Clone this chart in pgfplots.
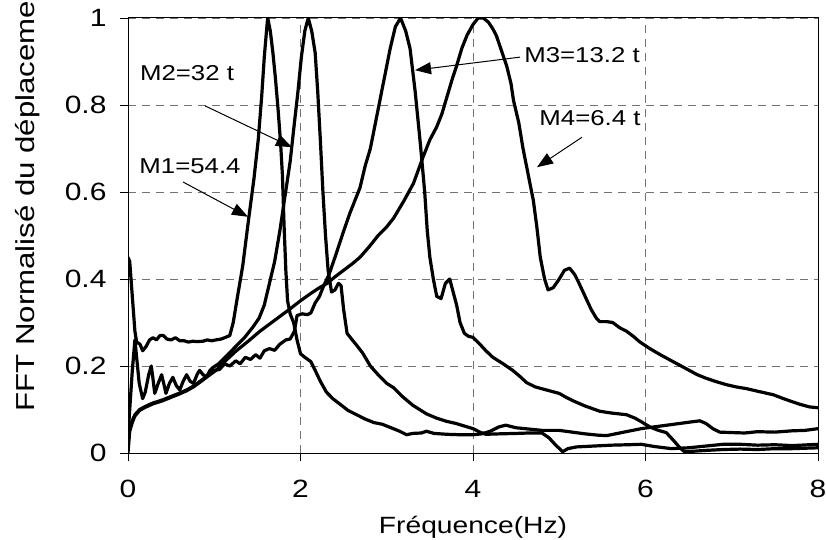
\documentclass[border=0pt]{standalone}
\usepackage{fontspec}
\setmainfont{Liberation Sans}[FakeStretch=1.2]
\usepackage{pgfplots}
\pgfplotsset{compat=1.18}
\usetikzlibrary{arrows.meta}

\pgfplotsset{curve/.style={black, line width=3.2pt, line join=round, no marks}}

\begin{document}
\begin{tikzpicture}
\useasboundingbox (0,0) rectangle (826pt,539pt);
\begin{axis}[
  at={(128pt,86pt)}, anchor=south west,
  scale only axis, width=690pt, height=435pt,
  xmin=0, xmax=8, ymin=0, ymax=1,
  xtick={0,2,4,6,8},
  ytick={0,0.2,0.4,0.6,0.8,1},
  tick pos=left, tick align=outside,
  major tick length=8pt,
  tick style={black, line width=0.8pt},
  axis line style={black, line width=1pt},
  grid=major,
  major grid style={black!55, line width=0.8pt, dash pattern=on 8pt off 6pt},
  /pgf/number format/assume math mode=true,
  tick label style={font=\fontsize{25}{30}\selectfont},
  xticklabel style={yshift=-16pt},
  yticklabel style={xshift=-10pt},
  xlabel={Fréquence(Hz)},
  xlabel style={at={(axis description cs:0.5,0)}, anchor=base, yshift=-80pt,
    font=\fontsize{23.5}{28}\selectfont},
  ylabel={FFT Normalisé du déplaceme},
  ylabel style={at={(axis description cs:-0.135,0.087)}, anchor=base west,
    font=\fontsize{26}{30}\selectfont},
]

% M1 = 54.4 t
\addplot[curve] coordinates {
(0,0.45)(0.02,0.44)(0.05,0.36)(0.08,0.28)(0.1,0.255)(0.14,0.25)(0.17,0.235)(0.21,0.245)
(0.25,0.26)(0.29,0.265)(0.33,0.26)(0.37,0.27)(0.41,0.27)(0.45,0.262)(0.5,0.26)(0.55,0.265)
(0.6,0.258)(0.65,0.258)(0.7,0.255)(0.75,0.257)(0.8,0.256)(0.87,0.257)(0.92,0.26)(0.97,0.258)
(1.02,0.26)(1.08,0.262)(1.12,0.265)(1.18,0.27)(1.22,0.3)(1.27,0.36)(1.33,0.43)(1.40,0.54)
(1.46,0.63)(1.51,0.72)(1.55,0.82)(1.58,0.91)(1.61,0.98)(1.62,1.0)(1.65,0.97)(1.68,0.92)
(1.71,0.86)(1.74,0.79)(1.77,0.71)(1.79,0.64)(1.81,0.52)(1.83,0.42)(1.85,0.35)(1.88,0.32)
(1.92,0.30)(1.96,0.26)(2.0,0.228)(2.05,0.22)(2.12,0.21)(2.17,0.19)(2.23,0.165)(2.3,0.14)
(2.38,0.124)(2.46,0.112)(2.55,0.098)(2.65,0.088)(2.75,0.078)(2.85,0.07)(2.95,0.066)(3.05,0.058)
(3.15,0.05)(3.23,0.042)(3.3,0.045)(3.4,0.046)(3.46,0.05)(3.55,0.045)(3.7,0.043)(3.85,0.042)
(4.0,0.042)(4.1,0.044)(4.2,0.05)(4.3,0.06)(4.38,0.064)(4.5,0.058)(4.65,0.055)(4.8,0.052)
(5.0,0.052)(5.15,0.048)(5.3,0.044)(5.45,0.041)(5.55,0.040)(5.7,0.046)(5.85,0.052)(5.95,0.056)
(6.1,0.06)(6.25,0.064)(6.4,0.068)(6.55,0.072)(6.63,0.074)(6.7,0.068)(6.78,0.056)(6.86,0.048)
(7.0,0.047)(7.15,0.046)(7.3,0.049)(7.5,0.048)(7.7,0.051)(7.85,0.052)(8.0,0.056)
};

% M2 = 32 t
\addplot[curve] coordinates {
(0,0.04)(0.02,0.1)(0.05,0.19)(0.08,0.26)(0.1,0.22)(0.13,0.16)(0.17,0.125)(0.2,0.14)
(0.24,0.18)(0.27,0.2)(0.29,0.17)(0.31,0.137)(0.35,0.16)(0.39,0.18)(0.42,0.155)(0.44,0.137)
(0.48,0.16)(0.52,0.174)(0.56,0.155)(0.6,0.145)(0.64,0.165)(0.68,0.18)(0.72,0.165)(0.76,0.16)
(0.8,0.18)(0.83,0.19)(0.87,0.18)(0.91,0.175)(0.95,0.19)(0.98,0.196)(1.05,0.205)(1.15,0.225)
(1.25,0.245)(1.35,0.265)(1.45,0.29)(1.52,0.31)(1.58,0.34)(1.64,0.39)(1.70,0.44)(1.76,0.51)
(1.82,0.59)(1.88,0.67)(1.93,0.76)(1.97,0.83)(2.01,0.91)(2.05,0.97)(2.09,1.0)(2.13,0.97)
(2.17,0.92)(2.2,0.83)(2.23,0.72)(2.26,0.6)(2.29,0.5)(2.32,0.42)(2.36,0.37)(2.4,0.375)
(2.44,0.39)(2.47,0.385)(2.5,0.33)(2.54,0.275)(2.6,0.26)(2.65,0.248)(2.72,0.23)(2.81,0.20)
(2.9,0.18)(3.0,0.16)(3.08,0.15)(3.18,0.13)(3.3,0.11)(3.46,0.09)(3.58,0.08)(3.69,0.073)
(3.8,0.068)(3.9,0.062)(4.0,0.056)(4.08,0.048)(4.15,0.043)(4.3,0.044)(4.5,0.045)(4.65,0.046)
(4.8,0.046)(4.88,0.035)(4.96,0.018)(5.04,0.003)(5.1,0.01)(5.2,0.014)(5.4,0.016)(5.6,0.018)
(5.8,0.019)(5.95,0.02)(6.1,0.015)(6.3,0.01)(6.5,0.012)(6.7,0.016)(6.9,0.02)(7.1,0.02)
(7.3,0.018)(7.5,0.019)(7.7,0.017)(8.0,0.02)
};

% M3 = 13.2 t
\addplot[curve] coordinates {
(0,0.03)(0.02,0.06)(0.05,0.075)(0.08,0.088)(0.135,0.1)(0.2,0.107)(0.29,0.115)(0.4,0.122)
(0.5,0.13)(0.6,0.138)(0.68,0.145)(0.76,0.154)(0.85,0.167)(0.93,0.179)(1.0,0.19)(1.06,0.192)
(1.12,0.205)(1.18,0.2)(1.25,0.212)(1.3,0.205)(1.36,0.22)(1.42,0.215)(1.48,0.226)(1.53,0.218)
(1.58,0.235)(1.64,0.24)(1.7,0.236)(1.76,0.25)(1.83,0.26)(1.88,0.262)(1.93,0.28)(1.96,0.316)
(2.02,0.32)(2.08,0.318)(2.12,0.322)(2.17,0.345)(2.22,0.36)(2.27,0.385)(2.33,0.41)(2.4,0.45)
(2.5,0.51)(2.57,0.55)(2.63,0.58)(2.69,0.61)(2.75,0.66)(2.81,0.70)(2.87,0.76)(2.92,0.81)
(2.98,0.87)(3.04,0.93)(3.1,0.98)(3.16,1.0)(3.22,0.97)(3.27,0.93)(3.33,0.83)(3.39,0.71)
(3.44,0.6)(3.47,0.51)(3.5,0.45)(3.54,0.40)(3.58,0.36)(3.63,0.355)(3.68,0.39)(3.73,0.40)
(3.77,0.37)(3.81,0.34)(3.85,0.30)(3.9,0.275)(3.95,0.268)(4.0,0.266)(4.04,0.258)(4.08,0.25)
(4.15,0.235)(4.23,0.22)(4.35,0.205)(4.46,0.19)(4.55,0.175)(4.62,0.162)(4.72,0.152)(4.85,0.145)
(5.0,0.137)(5.08,0.128)(5.16,0.12)(5.3,0.108)(5.47,0.096)(5.6,0.092)(5.78,0.088)(5.88,0.08)
(5.95,0.072)(6.05,0.06)(6.15,0.052)(6.24,0.047)(6.32,0.03)(6.39,0.014)(6.45,0.003)(6.55,0.004)
(6.7,0.006)(6.9,0.008)(7.1,0.009)(7.3,0.008)(7.5,0.01)(7.7,0.01)(8.0,0.012)
};

% M4 = 6.4 t
\addplot[curve] coordinates {
(0,0.0)(0.02,0.05)(0.05,0.07)(0.08,0.085)(0.135,0.098)(0.2,0.105)(0.29,0.113)(0.4,0.12)
(0.5,0.128)(0.6,0.136)(0.68,0.143)(0.76,0.152)(0.85,0.165)(0.93,0.177)(1.02,0.19)(1.12,0.21)
(1.25,0.234)(1.4,0.258)(1.53,0.28)(1.7,0.305)(1.87,0.33)(2.0,0.35)(2.12,0.367)(2.22,0.38)
(2.31,0.39)(2.4,0.405)(2.5,0.42)(2.6,0.435)(2.69,0.45)(2.8,0.475)(2.9,0.5)(3.0,0.52)
(3.08,0.54)(3.2,0.58)(3.31,0.62)(3.42,0.68)(3.5,0.72)(3.58,0.75)(3.64,0.78)(3.7,0.82)
(3.76,0.86)(3.81,0.89)(3.87,0.93)(3.93,0.96)(4.0,0.985)(4.06,1.0)(4.12,1.0)(4.18,0.99)
(4.23,0.975)(4.27,0.96)(4.33,0.925)(4.39,0.89)(4.44,0.85)(4.47,0.81)(4.53,0.76)(4.58,0.70)
(4.64,0.64)(4.7,0.58)(4.74,0.52)(4.78,0.45)(4.83,0.40)(4.87,0.375)(4.93,0.38)(5.0,0.40)
(5.06,0.42)(5.12,0.425)(5.18,0.41)(5.23,0.39)(5.3,0.36)(5.37,0.33)(5.43,0.31)(5.47,0.302)
(5.55,0.302)(5.62,0.30)(5.7,0.288)(5.78,0.28)(5.86,0.268)(5.93,0.256)(6.05,0.24)(6.18,0.225)
(6.32,0.21)(6.47,0.194)(6.6,0.18)(6.7,0.172)(6.82,0.164)(6.94,0.157)(7.05,0.152)(7.17,0.148)
(7.3,0.142)(7.48,0.134)(7.6,0.125)(7.7,0.118)(7.79,0.112)(7.9,0.106)(8.0,0.104)
};

% annotations
\node[font=\fontsize{21.5}{26}\selectfont] at (axis cs:0.684,0.874) {M2=32 t};
\node[font=\fontsize{21.5}{26}\selectfont] at (axis cs:0.719,0.660) {M1=54.4};
\node[font=\fontsize{21.5}{26}\selectfont] at (axis cs:5.264,0.915) {M3=13.2 t};
\node[font=\fontsize{21.5}{26}\selectfont] at (axis cs:5.357,0.770) {M4=6.4 t};
\draw[-{Triangle[length=16pt,width=12pt]}, line width=1pt] (axis cs:0.893,0.798) -- (axis cs:1.90,0.703);
\draw[-{Triangle[length=16pt,width=12pt]}, line width=1pt] (axis cs:0.638,0.623) -- (axis cs:1.391,0.543);
\draw[-{Triangle[length=16pt,width=12pt]}, line width=1pt] (axis cs:4.545,0.910) -- (axis cs:3.328,0.880);
\draw[-{Triangle[length=16pt,width=12pt]}, line width=1pt] (axis cs:5.264,0.726) -- (axis cs:4.742,0.657);
\end{axis}
\end{tikzpicture}
\end{document}
